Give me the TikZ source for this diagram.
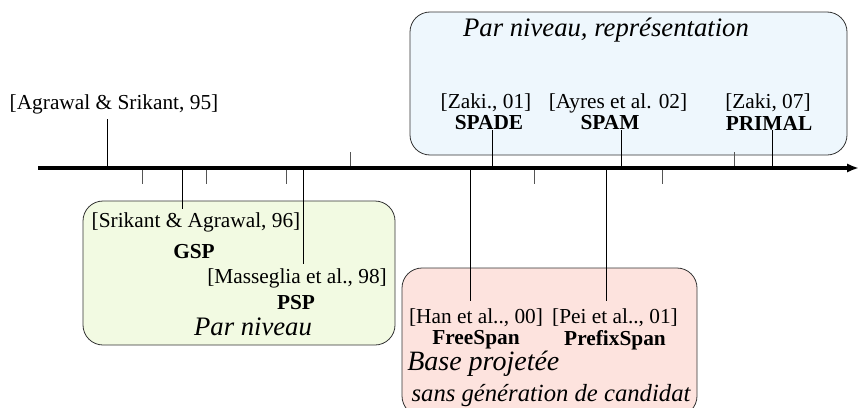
\documentclass[tikz,border=0pt]{standalone}
\usepackage{fontspec}
\setmainfont{Liberation Serif}
\usepackage{xcolor}
\usetikzlibrary{arrows.meta,calc}
\definecolor{FamBleu}{HTML}{EEF7FD}
\definecolor{FamVert}{HTML}{F2FAE2}
\definecolor{FamRose}{HTML}{FDE3DE}
\definecolor{FamTrait}{HTML}{333333}
\definecolor{TickGris}{HTML}{555555}

\tikzset{
  ref/.style={inner sep=0pt,font=\fontsize{16}{18}\selectfont},
  algo/.style={inner sep=0pt,font=\fontsize{16}{18}\selectfont\bfseries},
  famille/.style={inner sep=0pt,font=\fontsize{20}{22}\selectfont\itshape},
  cadre/.style={draw=FamTrait,line width=0.6pt,rounded corners=15pt},
  graduation/.style={draw=TickGris,line width=0.7pt},
  lien/.style={draw=black,line width=0.7pt}
}

\begin{document}
\begin{tikzpicture}[x=0.75pt,y=-0.75pt]
\path[use as bounding box] (0,0) rectangle (860,407);
\clip (0,0) rectangle (860,407);
% familles
\draw[cadre,fill=FamBleu] (410,12) rectangle (847,155);
\draw[cadre,fill=FamVert] (83,201) rectangle (395,345);
\draw[cadre,fill=FamRose] (402,268) rectangle (697,416);
% axe
\coordinate (debut) at (38,168);
\coordinate (fin) at (859,168);
\coordinate (t95) at (107,168);
\coordinate (t96) at (182,168);
\coordinate (t98) at (303,168);
\coordinate (t00) at (470,168);
\coordinate (t01) at (492,168);
\coordinate (p01) at (606,168);
\coordinate (t02) at (621,168);
\coordinate (t07) at (772,168);
\draw[graduation] (142,168) -- (142,184);
\draw[graduation] (206,168) -- (206,184);
\draw[graduation] (286,168) -- (286,184);
\draw[graduation] (534,168) -- (534,184);
\draw[graduation] (662,168) -- (662,184);
\draw[graduation] (350,152) -- (350,168);
\draw[graduation] (734,152) -- (734,168);
% textes
\node[famille] (repr) at (606,30) {Par niveau, représentation};
\node[ref] (as95) at (114,104) {[Agrawal \& Srikant, 95]};
\node[ref] (zaki01) at (486,103) {[Zaki., 01]};
\node[algo] (spade) at (489,123) {SPADE};
\node[ref] (ayres) at (618,103) {[Ayres et al. 02]};
\node[algo] (spam) at (610,123) {SPAM};
\node[ref] (zaki07) at (768,103) {[Zaki, 07]};
\node[algo] (primal) at (769,123) {PRIMAL};
\node[ref] (sri96) at (196,222) {[Srikant \& Agrawal, 96]};
\node[algo] (gsp) at (194,252) {GSP};
\node[ref] (mas98) at (297,278) {[Masseglia et al., 98]};
\node[algo] (psp) at (296,303) {PSP};
\node[famille] (niveau) at (253,327) {Par niveau};
\node[ref] (han00) at (476,318) {[Han et al.., 00]};
\node[algo] (freespan) at (476,340) {FreeSpan};
\node[ref] (pei01) at (615,318) {[Pei et al.., 01]};
\node[algo] (prefixspan) at (615,340) {PrefixSpan};
\node[famille,font=\fontsize{21}{23}\selectfont\itshape,anchor=west] (base) at (407,364) {Base projetée};
\node[famille,font=\fontsize{18.5}{21}\selectfont\itshape] (sansgen) at (551,396) {sans génération de candidat};
% liens
\draw[lien] (t95) -- ($(t95 |- as95.south)+(0,5)$);
\draw[lien] (t96) -- ($(t96 |- sri96.north)+(0,-3)$);
\draw[lien] (t98) -- ($(t98 |- mas98.north)+(0,-4)$);
\draw[lien] (t00) -- ($(t00 |- han00.north)+(0,-8)$);
\draw[lien] (p01) -- ($(p01 |- pei01.north)+(0,-8)$);
\draw[lien] (t01) -- (t01 |- spade.base);
\draw[lien] (t02) -- (t02 |- spam.base);
\draw[lien] (t07) -- (t07 |- primal.base);
\draw[line width=2.4pt,-{Latex[length=9pt,width=7pt]}] (debut) -- (fin);
\end{tikzpicture}
\end{document}
